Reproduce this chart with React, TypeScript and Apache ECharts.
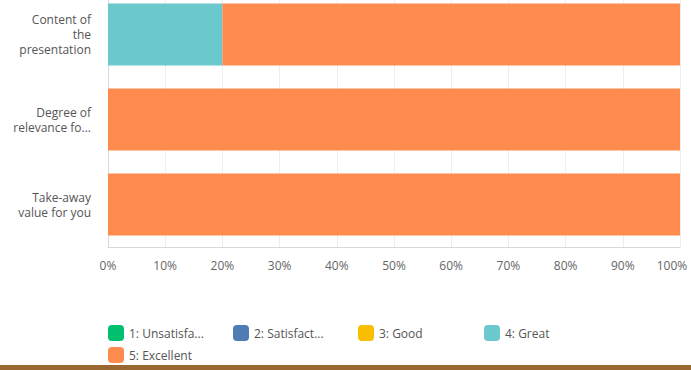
import React, { useEffect, useRef } from "react";
import * as echarts from "echarts";

const categories = ["Content of\nthe\npresentation", "Degree of\nrelevance fo...", "Take-away\nvalue for you"];
const seriesNames = ["1: Unsatisfactory", "2: Satisfactory", "3: Good", "4: Great", "5: Excellent"];
const legendLabels = ["1: Unsatisfa...", "2: Satisfact...", "3: Good", "4: Great", "5: Excellent"];
const colors = ["#00bf6f", "#507cb6", "#f9be00", "#6bc8cd", "#ff8b4f"];
const unsatisfactory = [0, 0, 0];
const satisfactory = [0, 0, 0];
const good = [0, 0, 0];
const great = [20, 0, 0];
const excellent = [80, 100, 100];
const xTicks = [0, 10, 20, 30, 40, 50, 60, 70, 80, 90, 100];

const FONT = "'Open Sans', sans-serif";

export default function App() {
  const ref = useRef<HTMLDivElement>(null);
  useEffect(() => {
    if (!ref.current) return;
    const chart = echarts.init(ref.current, null, { renderer: "svg" });
    const values = [unsatisfactory, satisfactory, good, great, excellent];
    const legendPos = [
      { left: 108, top: 325 },
      { left: 233, top: 325 },
      { left: 358, top: 325 },
      { left: 484, top: 325 },
      { left: 108, top: 347 },
    ];
    const maxTick = xTicks[xTicks.length - 1];
    chart.setOption({
      animation: false,
      backgroundColor: "#ffffff",
      grid: { left: 108, right: 11, top: -8, bottom: 123, containLabel: false, outerBoundsMode: "none" },
      xAxis: {
        type: "value",
        min: xTicks[0],
        max: maxTick,
        interval: 10,
        axisLine: { show: true, lineStyle: { color: "#d9d9d9" } },
        axisTick: { show: false },
        splitLine: { show: true, lineStyle: { color: "#eeeeee" } },
        axisLabel: {
          formatter: (v: number) => (v === maxTick ? "{last|" + v + "%}" : v + "%"),
          color: "#666666",
          fontSize: 12,
          fontFamily: FONT,
          margin: 12,
          rich: {
            last: { color: "#666666", fontSize: 12, fontFamily: FONT, padding: [0, 16, 0, 0] },
          },
        },
      },
      yAxis: {
        type: "category",
        inverse: true,
        data: categories,
        axisLine: { show: true, lineStyle: { color: "#d9d9d9" } },
        axisTick: { show: false },
        axisLabel: {
          color: "#555555",
          fontSize: 12,
          fontFamily: FONT,
          lineHeight: 15,
          margin: 17,
          align: "right",
        },
      },
      legend: seriesNames.map((n, i) => ({
        data: [n],
        left: legendPos[i].left,
        top: legendPos[i].top,
        padding: 0,
        orient: "horizontal",
        itemWidth: 16,
        itemHeight: 16,
        itemGap: 5,
        icon: "roundRect",
        selectedMode: false,
        formatter: () => legendLabels[i],
        textStyle: { color: "#555555", fontSize: 12, fontFamily: FONT },
      })),
      series: seriesNames.map((n, i) => ({
        name: n,
        type: "bar",
        stack: "total",
        barCategoryGap: "27%",
        itemStyle: { color: colors[i] },
        data: values[i],
      })),
      graphic: [
        {
          type: "rect",
          left: 0,
          top: 365,
          shape: { width: 691, height: 5 },
          style: { fill: "#9a6932" },
        },
      ],
    });
    return () => chart.dispose();
  }, []);
  return <div ref={ref} style={{ width: 691, height: 370, position: "absolute", left: 0, top: 0 }} />;
}
